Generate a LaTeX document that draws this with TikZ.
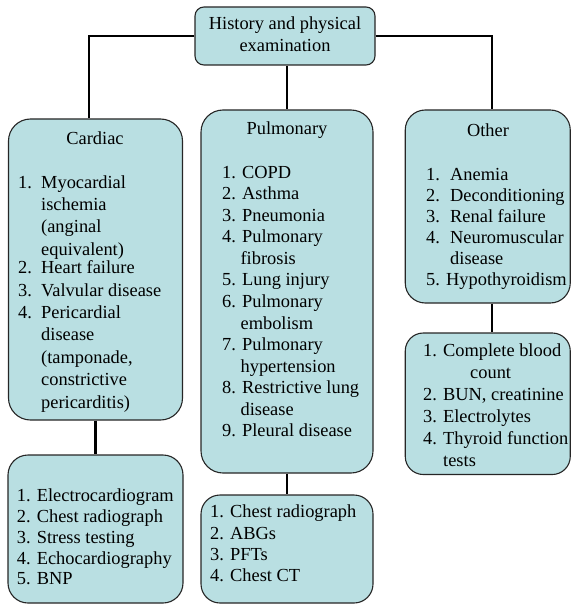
\documentclass[tikz,border=0pt]{standalone}
\usepackage{fontspec}
\setmainfont{Liberation Serif}
\definecolor{boxfill}{RGB}{185,223,226}
\tikzset{
  box/.style={draw=black!85, line width=1.1pt, fill=boxfill, inner sep=0pt},
  conn/.style={line width=2.5pt, black},
  txt/.style={inner sep=0pt, anchor=base west, font=\fontsize{18.4}{21.5}\selectfont},
  ttl/.style={inner sep=0pt, anchor=base, font=\fontsize{18.4}{22}\selectfont},
}
\newcommand\nm[1]{\makebox[23pt][l]{#1}}
\newcommand\nmo[1]{\makebox[24pt][l]{#1}}
\begin{document}
\begin{tikzpicture}[x=1pt,y=-1pt]
\useasboundingbox (0,0) rectangle (572,604);
% boxes
\node[box, rounded corners=9pt, minimum width=180pt, minimum height=58pt] (top) at (285,36) {};
\node[box, rounded corners=22pt, minimum width=174pt, minimum height=301pt] (card) at (95.5,269.5) {};
\node[box, rounded corners=22pt, minimum width=172pt, minimum height=363pt] (pulm) at (287,291.5) {};
\node[box, rounded corners=20pt, minimum width=165pt, minimum height=193pt] (oth) at (487.75,206.5) {};
\node[box, rounded corners=20pt, minimum width=175pt, minimum height=148pt] (cardlow) at (95.5,529) {};
\node[box, rounded corners=19pt, minimum width=172pt, minimum height=108pt] (pulmlow) at (287,549) {};
\node[box, rounded corners=18pt, minimum width=165pt, minimum height=141.5pt] (othlow) at (487.75,403.75) {};
% connector guides
\coordinate (cline) at (89,0);
\coordinate (oline) at (492,0);
% connectors
\draw[conn] (top.west) -| (card.north -| cline);
\draw[conn] (top.east) -| (oth.north -| oline);
\draw[conn] (top.south -| pulm.north) -- (pulm.north);
\draw[conn] (card.south) -- (cardlow.north);
\draw[conn] (pulm.south) -- (pulmlow.north);
\draw[conn] (oth.south -| oline) -- (othlow.north -| oline);
% texts
\node[ttl] (toptext) at (285,30) {\begin{tabular}[t]{@{}c@{}}History and physical\\ examination\end{tabular}};
\node[ttl] (cardt) at (95,145) {Cardiac};
\node[ttl] (pulmt) at (287,135) {Pulmonary};
\node[ttl] (otht) at (488,136.5) {Other};
\node[txt, font=\fontsize{18.4}{22.4}\selectfont] (cardl) at (18,188) {\begin{tabular}[t]{@{}l@{}}
\nm{1.}Myocardial\\
\nm{}ischemia\\
\nm{}(anginal\\
\nm{}equivalent)\\[-4pt]
\nm{2.}Heart failure\\
\nm{3.}Valvular disease\\
\nm{4.}Pericardial\\
\nm{}disease\\
\nm{}(tamponade,\\
\nm{}constrictive\\
\nm{}pericarditis)
\end{tabular}};
\node[txt, font=\fontsize{18.4}{21.53}\selectfont] (pulml) at (222,178.3) {\begin{tabular}[t]{@{}l@{}}
1. COPD\\
2. Asthma\\
3. Pneumonia\\
4. Pulmonary\\
\hspace*{18.4pt}fibrosis\\
5. Lung injury\\
6. Pulmonary\\
\hspace*{18.4pt}embolism\\
7. Pulmonary\\
\hspace*{18.4pt}hypertension\\
8. Restrictive lung\\
\hspace*{18.4pt}disease\\
9. Pleural disease
\end{tabular}};
\node[txt, font=\fontsize{18.4}{21}\selectfont] (othl) at (426,180) {\begin{tabular}[t]{@{}l@{}}
\nmo{1.}Anemia\\
\nmo{2.}Deconditioning\\
\nmo{3.}Renal failure\\
\nmo{4.}Neuromuscular\\
\nmo{}disease\\
5. Hypothyroidism
\end{tabular}};
\node[txt, font=\fontsize{18.4}{22}\selectfont] (othlowl) at (423,356.7) {\begin{tabular}[t]{@{}l@{}}
1. Complete blood\\
\hspace*{47pt}count\\
2. BUN, creatinine\\
3. Electrolytes\\
4. Thyroid function\\
\hspace*{20pt}tests
\end{tabular}};
\node[txt, font=\fontsize{18.4}{20.8}\selectfont] (cardlowl) at (16.7,501.7) {\begin{tabular}[t]{@{}l@{}}
1. Electrocardiogram\\
2. Chest radiograph\\
3. Stress testing\\
4. Echocardiography\\
5. BNP
\end{tabular}};
\node[txt, font=\fontsize{18.4}{21.3}\selectfont] (pulmlowl) at (210,517.7) {\begin{tabular}[t]{@{}l@{}}
1. Chest radiograph\\
2. ABGs\\
3. PFTs\\
4. Chest CT
\end{tabular}};
\end{tikzpicture}
\end{document}
